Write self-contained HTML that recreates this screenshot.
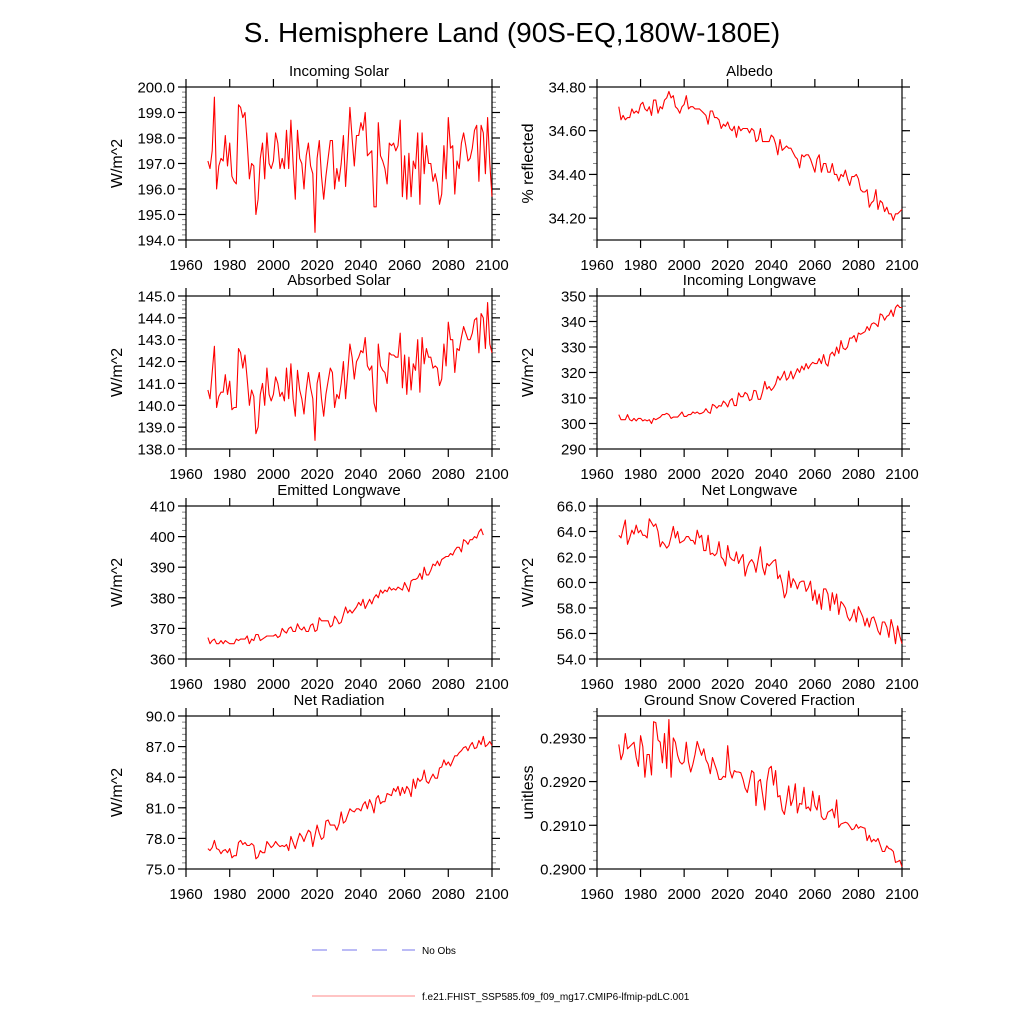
<!DOCTYPE html>
<html><head><meta charset="utf-8"><style>
html,body{margin:0;padding:0;background:#fff;}
svg{display:block;font-family:"Liberation Sans",sans-serif;}
</style></head><body>
<svg id="fig" width="1024" height="1024" viewBox="0 0 1024 1024">
<text x="512" y="42" text-anchor="middle" font-size="28">S. Hemisphere Land (90S-EQ,180W-180E)</text>
<g>
<line x1="312" y1="950" x2="415" y2="950" stroke="#7777ee" stroke-width="1" stroke-dasharray="15,15"/>
<text x="422" y="954" font-size="10">No Obs</text>
<line x1="312" y1="996" x2="415" y2="996" stroke="#ff8888" stroke-width="1"/>
<text x="422" y="1000" font-size="10">f.e21.FHIST_SSP585.f09_f09_mg17.CMIP6-lfmip-pdLC.001</text>
</g>
</svg>
<script>
const incomingSolar=[197.1,196.8,197.5,199.6,196.0,196.9,197.2,197.1,198.1,196.9,197.8,196.5,196.3,196.2,199.3,199.2,198.8,199.0,197.8,196.4,197.0,196.9,195.0,195.6,197.2,197.8,196.4,198.2,197.0,196.8,197.1,198.2,197.8,196.8,197.2,196.8,198.3,196.8,198.7,197.0,195.6,198.3,197.2,197.0,196.0,197.3,197.8,196.9,196.6,194.3,197.2,197.9,196.5,195.6,196.5,197.2,197.9,197.9,196.0,196.8,196.3,197.0,198.1,196.1,197.5,199.2,198.0,196.9,198.1,198.1,198.6,198.3,199.0,197.3,197.4,197.5,195.3,195.3,198.6,197.3,197.1,196.8,196.2,197.8,197.7,197.8,197.5,197.7,198.7,195.7,197.3,195.6,197.4,195.7,197.1,196.8,198.2,195.4,198.2,196.6,197.7,197.0,197.0,196.3,196.6,196.2,195.4,195.8,197.7,196.4,198.8,197.6,197.7,195.8,197.1,196.8,197.8,198.2,197.7,197.1,197.2,197.6,198.3,198.5,196.3,198.5,198.2,196.6,198.8,197.0,195.7];
const albedo=[34.71,34.65,34.67,34.65,34.66,34.66,34.70,34.68,34.69,34.68,34.72,34.73,34.70,34.69,34.71,34.67,34.74,34.74,34.68,34.71,34.70,34.74,34.75,34.78,34.75,34.76,34.71,34.70,34.68,34.71,34.72,34.76,34.70,34.71,34.71,34.70,34.70,34.70,34.69,34.68,34.67,34.63,34.69,34.69,34.66,34.66,34.65,34.61,34.63,34.62,34.64,34.61,34.60,34.62,34.57,34.62,34.60,34.61,34.61,34.61,34.59,34.61,34.60,34.55,34.56,34.61,34.55,34.55,34.55,34.55,34.58,34.57,34.54,34.49,34.56,34.51,34.52,34.53,34.52,34.52,34.50,34.48,34.47,34.43,34.49,34.48,34.49,34.49,34.47,34.44,34.41,34.47,34.49,34.41,34.45,34.45,34.41,34.41,34.45,34.40,34.40,34.37,34.40,34.39,34.42,34.38,34.35,34.39,34.39,34.40,34.38,34.33,34.32,34.32,34.33,34.25,34.27,34.28,34.33,34.24,34.28,34.27,34.23,34.25,34.22,34.22,34.19,34.22,34.22,34.23,34.24];
const absorbedSolar=[140.7,140.3,141.5,142.7,139.9,140.4,140.6,140.6,141.4,140.5,141.1,139.8,139.9,139.9,142.6,142.4,141.7,142.3,141.2,140.0,140.7,140.4,138.7,139.0,140.5,141.0,140.0,141.7,140.5,140.2,140.5,141.3,141.0,140.4,140.6,140.2,141.7,140.3,141.9,140.3,139.5,141.6,140.7,140.3,139.6,140.7,141.5,140.8,140.3,138.4,141.0,141.5,140.3,139.5,140.5,141.1,141.7,141.5,139.9,140.5,140.3,141.0,142.0,140.3,141.5,142.8,142.2,141.2,142.0,142.2,142.5,142.4,143.1,141.8,141.6,141.8,140.1,139.7,142.8,141.8,141.6,141.5,141.0,142.4,142.3,142.3,142.2,142.2,143.3,140.8,142.3,140.5,142.2,140.7,141.9,141.6,143.0,140.6,143.1,141.9,142.6,142.2,142.2,141.7,141.8,141.7,140.9,141.2,142.8,141.8,143.8,143.0,143.0,141.5,142.6,142.5,143.1,143.6,143.3,143.0,143.0,143.3,143.9,144.0,142.4,144.2,144.0,142.6,144.7,142.8,142.4];
const incomingLW=[303.5,301.5,301.5,301.5,303.5,301.5,301.0,302.0,301.0,302.0,302.0,301.0,301.5,301.0,301.5,300.0,302.0,301.5,302.0,302.5,303.5,303.5,304.0,303.5,302.0,302.5,302.5,302.5,303.5,304.5,302.8,302.8,303.5,303.5,304.5,304.0,304.5,303.8,304.0,304.5,305.8,304.5,304.0,307.5,307.0,306.0,307.0,306.8,308.8,308.0,306.5,309.0,309.8,307.0,307.0,312.0,310.5,310.5,312.2,311.5,309.0,309.5,313.0,312.8,309.5,309.5,312.5,316.5,313.5,314.5,313.0,314.0,315.5,318.5,317.0,318.5,320.5,317.0,318.0,320.5,317.5,319.5,321.5,320.0,322.5,321.0,323.5,321.5,323.0,324.0,323.5,323.5,325.5,323.5,327.0,323.5,322.5,327.0,328.0,326.5,330.0,327.5,332.5,329.5,329.0,330.0,333.5,333.5,334.5,332.0,335.5,335.0,335.5,336.0,338.0,336.5,339.0,339.5,339.0,338.0,343.0,342.5,340.5,342.0,342.5,344.5,342.0,345.5,346.5,345.5,345.5];
const emittedLW=[367,365,366,366.5,365,365,366,365,366,365.5,365,365,365,366.5,366,366.5,366.5,366.5,367.5,365,366.5,366,368,368,366,366.5,367,367.5,367.5,367.5,367.5,368,367,367.5,370,369,368.5,370,370.5,369,369,371.5,370,369.5,370.5,369,369,371,371.5,369,369.5,373.5,372.5,372.5,372.5,372.5,370.5,371,374,373,371.5,372,374.5,377,375,376,375,376,377,378.5,377.5,379.5,376.5,378,379.5,378,380,381,380,382.5,381.5,382.5,382,383.5,382.5,383,382.5,383.5,383,382.5,385,383.5,382,385.5,386,386,386.5,388,386,390,387.5,387.5,389,391,390.5,392,390.5,392.5,393,393.5,393.5,394.5,394,395.5,396.5,396.5,395,399,398.5,397.5,399,399,400,399.5,401.5,402.5,400.5];
const netLW=[63.7,63.5,64.2,64.9,63.0,63.5,64.1,63.8,64.5,63.9,64.1,63.7,63.7,63.5,65.0,64.7,64.4,64.6,64.0,62.8,63.2,63.0,62.7,62.9,63.6,64.4,63.5,64.0,63.1,63.2,63.3,63.6,63.6,63.3,63.3,63.0,64.1,63.5,63.7,62.5,62.5,63.7,62.2,62.3,62.1,62.3,63.2,62.0,61.8,61.3,62.9,62.0,61.8,61.7,62.4,61.5,61.9,62.2,60.5,61.2,61.6,61.8,61.5,60.8,61.8,62.8,61.2,60.6,61.5,61.3,61.5,61.7,61.8,60.3,60.6,59.9,58.8,59.2,60.9,59.6,60.3,60.0,59.5,60.0,60.1,60.1,59.3,59.6,60.1,58.6,59.4,58.3,59.1,57.9,59.5,59.5,59.1,57.8,59.2,58.3,59.1,57.5,58.5,58.3,58.0,57.3,57.0,57.3,57.9,56.9,58.1,57.7,57.3,56.6,57.2,56.5,57.2,57.3,56.8,56.2,55.9,56.9,56.9,56.5,55.7,57.1,56.4,55.2,56.6,55.8,55.2];
const netRad=[77.0,76.8,77.1,77.8,77.0,76.9,76.5,76.8,76.9,76.6,77.0,76.1,76.3,76.3,77.6,77.8,77.4,77.6,77.3,77.3,77.5,77.3,76.0,76.2,76.8,76.6,76.6,77.7,77.4,77.1,77.3,77.7,77.4,77.2,77.3,77.2,77.4,76.8,78.2,77.6,77.0,77.8,78.5,78.2,77.7,78.3,78.8,78.6,77.2,78.3,79.3,78.5,77.9,78.1,79.7,79.8,79.3,79.3,79.3,78.8,79.4,80.6,79.5,79.7,80.3,80.9,80.7,80.6,80.9,80.9,80.7,81.3,81.6,80.9,81.8,81.3,80.5,81.9,82.2,81.4,81.6,81.6,82.4,82.3,82.2,82.9,82.6,83.1,82.2,83.0,82.4,83.1,82.8,82.1,83.8,82.9,83.9,83.6,83.8,84.7,83.6,83.4,83.9,84.3,83.9,83.9,84.9,85.0,85.7,85.2,85.5,85.1,85.6,86.1,86.1,86.4,86.6,86.9,87.0,86.6,87.1,87.4,86.8,86.9,87.6,87.2,88.0,87.0,87.2,87.5,87.1];
const snowFrac=[0.29285,0.29250,0.29265,0.29310,0.29275,0.29280,0.29285,0.29290,0.29255,0.29235,0.29305,0.29280,0.29210,0.29262,0.29262,0.29215,0.29337,0.29335,0.29295,0.29290,0.29243,0.29310,0.29230,0.29342,0.29210,0.29300,0.29290,0.29260,0.29245,0.29240,0.29245,0.29290,0.29245,0.29222,0.29240,0.29262,0.29292,0.29275,0.29260,0.29275,0.29250,0.29240,0.29218,0.29255,0.29240,0.29225,0.29205,0.29205,0.29212,0.29210,0.29282,0.29225,0.29208,0.29225,0.29222,0.29222,0.29220,0.29205,0.29185,0.29175,0.29200,0.29225,0.29220,0.29145,0.29200,0.29205,0.29170,0.29135,0.29200,0.29230,0.29235,0.29192,0.29225,0.29165,0.29168,0.29135,0.29125,0.29155,0.29190,0.29145,0.29160,0.29195,0.29128,0.29150,0.29148,0.29187,0.29138,0.29142,0.29133,0.29178,0.29145,0.29135,0.29168,0.29120,0.29113,0.29115,0.29130,0.29133,0.29137,0.29117,0.29158,0.29095,0.29103,0.29105,0.29107,0.29105,0.29098,0.29090,0.29092,0.29102,0.29093,0.29097,0.29095,0.29093,0.29065,0.29077,0.29062,0.29068,0.29063,0.29070,0.29055,0.29040,0.29040,0.29053,0.29047,0.29045,0.29040,0.29015,0.29017,0.29020,0.29005];
const startYear=1970;
const xTickLabels=["1960","1980","2000","2020","2040","2060","2080","2100"];

const NS="http://www.w3.org/2000/svg";
const svg=document.getElementById('fig');
function mk(tag,attrs,parent){const e=document.createElementNS(NS,tag);for(const k in attrs)e.setAttribute(k,attrs[k]);(parent||svg).appendChild(e);return e;}

const panels=[
 {key:'incoming-solar',title:'Incoming Solar',yt:'W/m^2',data:incomingSolar,x0:186,x1:492,y0:87,y1:240,min:194,max:200,maj:1,min_:0.2,dec:1},
 {key:'albedo',title:'Albedo',yt:'% reflected',data:albedo,x0:597,x1:902,y0:87,y1:240,min:34.1,max:34.8,maj:0.2,min_:0.05,dec:2,majStart:34.2},
 {key:'absorbed-solar',title:'Absorbed Solar',yt:'W/m^2',data:absorbedSolar,x0:186,x1:492,y0:296,y1:449,min:138,max:145,maj:1,min_:0.2,dec:1},
 {key:'incoming-longwave',title:'Incoming Longwave',yt:'W/m^2',data:incomingLW,x0:597,x1:902,y0:296,y1:449,min:290,max:350,maj:10,min_:2,dec:0},
 {key:'emitted-longwave',title:'Emitted Longwave',yt:'W/m^2',data:emittedLW,x0:186,x1:492,y0:506,y1:659,min:360,max:410,maj:10,min_:2,dec:0},
 {key:'net-longwave',title:'Net Longwave',yt:'W/m^2',data:netLW,x0:597,x1:902,y0:506,y1:659,min:54,max:66,maj:2,min_:0.5,dec:1},
 {key:'net-radiation',title:'Net Radiation',yt:'W/m^2',data:netRad,x0:186,x1:492,y0:716,y1:869,min:75,max:90,maj:3,min_:0.6,dec:1},
 {key:'snow-fraction',title:'Ground Snow Covered Fraction',yt:'unitless',data:snowFrac,x0:597,x1:902,y0:716,y1:869,min:0.29,max:0.2935,maj:0.001,min_:0.0002,dec:4}
];

panels.forEach(p=>{
 const g=mk('g',{});
 
 
 const xs=yr=>p.x0+(yr-1960)*(p.x1-p.x0)/140;
 const ys=v=>p.y1-(v-p.min)*(p.y1-p.y0)/(p.max-p.min);
 const nMin=Math.round((p.max-p.min)/p.min_);
 for(let i=0;i<=nMin;i++){const v=p.min+i*p.min_;const y=ys(v);
  const t1=mk('line',{x1:p.x0-4,x2:p.x0,y1:y,y2:y,stroke:'#888','stroke-width':1},g);
  
  const t2=mk('line',{x1:p.x1,x2:p.x1+4,y1:y,y2:y,stroke:'#888','stroke-width':1},g);
  }
 const start=p.majStart!==undefined?p.majStart:p.min;
 for(let v=start;v<=p.max+1e-9;v+=p.maj){const y=ys(v);
  const t1=mk('line',{x1:p.x0-8,x2:p.x0,y1:y,y2:y,stroke:'#000','stroke-width':1.2},g);
  
  const t2=mk('line',{x1:p.x1,x2:p.x1+8,y1:y,y2:y,stroke:'#000','stroke-width':1.2},g);
  
  const tl=mk('text',{x:p.x0-11,y:y+5.5,'text-anchor':'end','font-size':15},g);
  tl.textContent=v.toFixed(p.dec);
  }
 xTickLabels.forEach(lbl=>{const x=xs(+lbl);
  const b=mk('line',{x1:x,x2:x,y1:p.y1,y2:p.y1+8,stroke:'#000','stroke-width':1.2},g);
  
  const t=mk('line',{x1:x,x2:x,y1:p.y0-8,y2:p.y0,stroke:'#000','stroke-width':1.2},g);
  
  const tl=mk('text',{x:x,y:p.y1+30,'text-anchor':'middle','font-size':15},g);
  tl.textContent=lbl;
  });
 const fr=mk('rect',{x:p.x0,y:p.y0,width:p.x1-p.x0,height:p.y1-p.y0,fill:'none',stroke:'#000','stroke-width':1.2},g);
 
 const pts=p.data.map((v,i)=>xs(startYear+i).toFixed(1)+','+ys(v).toFixed(1)).join(' ');
 const pl=mk('polyline',{points:pts,fill:'none',stroke:'#ff0000','stroke-width':1.1,'stroke-linejoin':'round'},g);
 
 const tt=mk('text',{x:(p.x0+p.x1)/2,y:p.y0-11,'text-anchor':'middle','font-size':15},g);
 tt.textContent=p.title;
 
 const cx=p.x0-64,cy=(p.y0+p.y1)/2;
 const yt=mk('text',{x:cx,y:cy,'text-anchor':'middle','font-size':16,transform:'rotate(-90 '+cx+' '+cy+')'},g);
 yt.textContent=p.yt;
 
});
</script>
</body></html>
